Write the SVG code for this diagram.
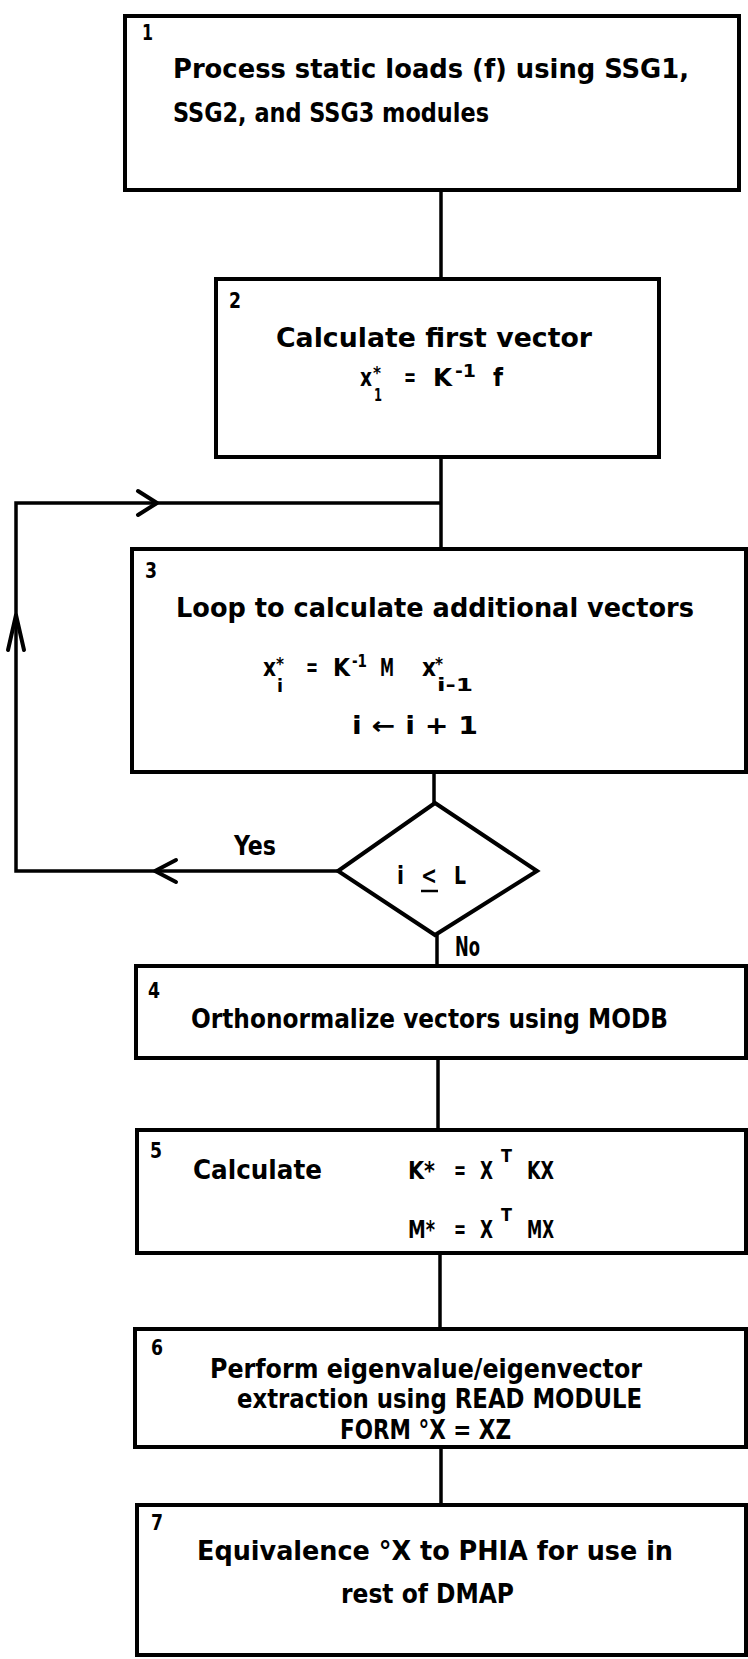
<svg xmlns="http://www.w3.org/2000/svg" width="748" height="1659" viewBox="0 0 748 1659">
<style>
.box{fill:#fff;stroke:#000;stroke-width:4}
.ln{fill:none;stroke:#000;stroke-width:3.5;stroke-linejoin:miter}
.ar{fill:none;stroke:#000;stroke-width:4;stroke-linecap:round;stroke-linejoin:round}
text{font-family:"DejaVu Sans Condensed","Liberation Sans Narrow","Liberation Sans",sans-serif;font-weight:bold;fill:#000}
.t{font-size:26px}
.n{font-size:21px}
.m{font-size:24px}
.s{font-size:17px}
</style>
<rect width="748" height="1659" fill="#fff"/>
<g id="connectors">
<line class="ln" x1="441" y1="190" x2="441" y2="279"/>
<line class="ln" x1="441" y1="457" x2="441" y2="549"/>
<polyline class="ln" points="338,871 16,871 16,503 441,503"/>
<polyline class="ar" points="176,860 155,871 176,882"/>
<polyline class="ar" points="8,650 16,615 24,650"/>
<polyline class="ar" points="138,491 157,503 138,515"/>
<line class="ln" x1="434" y1="772" x2="434" y2="803"/>
<line class="ln" x1="437" y1="935" x2="437" y2="966"/>
<line class="ln" x1="438" y1="1058" x2="438" y2="1130"/>
<line class="ln" x1="440" y1="1253" x2="440" y2="1329"/>
<line class="ln" x1="441" y1="1447" x2="441" y2="1505"/>
<text class="t" x="234" y="855" textLength="42" lengthAdjust="spacingAndGlyphs">Yes</text>
<text class="t" x="455" y="956" textLength="25" lengthAdjust="spacingAndGlyphs">No</text>
</g>
<g id="node1">
<rect class="box" x="125" y="16" width="614" height="174"/>
<text class="n" x="142" y="40" textLength="11" lengthAdjust="spacingAndGlyphs">1</text>
<text class="t" x="173" y="78" textLength="516" lengthAdjust="spacingAndGlyphs">Process static loads (f) using SSG1,</text>
<text class="t" x="173" y="122" textLength="316" lengthAdjust="spacingAndGlyphs">SSG2, and SSG3 modules</text>
</g>
<g id="node2">
<rect class="box" x="216" y="279" width="443" height="178"/>
<text class="n" x="229" y="308" textLength="12" lengthAdjust="spacingAndGlyphs">2</text>
<text class="t" x="276" y="347" textLength="316" lengthAdjust="spacingAndGlyphs">Calculate first vector</text>
<text class="m" x="360" y="386" textLength="12" lengthAdjust="spacingAndGlyphs">x</text>
<text class="s" x="373" y="379">*</text>
<text class="s" x="374" y="401" textLength="8" lengthAdjust="spacingAndGlyphs">1</text>
<text class="m" x="404" y="386" textLength="12" lengthAdjust="spacingAndGlyphs">=</text>
<text class="m" x="433" y="386" textLength="19" lengthAdjust="spacingAndGlyphs">K</text>
<text class="s" x="455" y="377" textLength="21" lengthAdjust="spacingAndGlyphs">-1</text>
<text class="m" x="493" y="386" textLength="10" lengthAdjust="spacingAndGlyphs">f</text>
</g>
<g id="node3">
<rect class="box" x="132" y="549" width="614" height="223"/>
<text class="n" x="145" y="578" textLength="12" lengthAdjust="spacingAndGlyphs">3</text>
<text class="t" x="176" y="617" textLength="518" lengthAdjust="spacingAndGlyphs">Loop to calculate additional vectors</text>
<text class="m" x="263" y="676" textLength="13" lengthAdjust="spacingAndGlyphs">x</text>
<text class="s" x="276" y="670">*</text>
<text class="s" x="277" y="692" textLength="6" lengthAdjust="spacingAndGlyphs">i</text>
<text class="m" x="306" y="676" textLength="12" lengthAdjust="spacingAndGlyphs">=</text>
<text class="m" x="333" y="676" textLength="17" lengthAdjust="spacingAndGlyphs">K</text>
<text class="s" x="352" y="667" textLength="15" lengthAdjust="spacingAndGlyphs">-1</text>
<text class="m" x="380" y="676" textLength="14" lengthAdjust="spacingAndGlyphs">M</text>
<text class="m" x="422" y="676" textLength="14" lengthAdjust="spacingAndGlyphs">x</text>
<text class="s" x="435" y="670">*</text>
<text class="s" x="437" y="691" textLength="36" lengthAdjust="spacingAndGlyphs">i-1</text>
<text class="m" x="352" y="734" textLength="126" lengthAdjust="spacingAndGlyphs">i ← i + 1</text>
</g>
<g id="decision">
<polygon class="box" points="435,803 537,871 435,935 338,871"/>
<text class="m" x="397" y="884" textLength="7" lengthAdjust="spacingAndGlyphs">i</text>
<text class="m" x="421" y="884" textLength="16" lengthAdjust="spacingAndGlyphs">&lt;</text>
<line x1="421" y1="891" x2="438" y2="891" stroke="#000" stroke-width="2.5"/>
<text class="m" x="454" y="884" textLength="12" lengthAdjust="spacingAndGlyphs">L</text>
</g>
<g id="node4">
<rect class="box" x="136" y="966" width="610" height="92"/>
<text class="n" x="148" y="998" textLength="12" lengthAdjust="spacingAndGlyphs">4</text>
<text class="t" x="191" y="1028" textLength="477" lengthAdjust="spacingAndGlyphs">Orthonormalize vectors using MODB</text>
</g>
<g id="node5">
<rect class="box" x="137" y="1130" width="609" height="123"/>
<text class="n" x="150" y="1158" textLength="12" lengthAdjust="spacingAndGlyphs">5</text>
<text class="t" x="193" y="1179" textLength="129" lengthAdjust="spacingAndGlyphs">Calculate</text>
<text class="m" x="408" y="1179" textLength="27" lengthAdjust="spacingAndGlyphs">K*</text>
<text class="m" x="454" y="1179" textLength="12" lengthAdjust="spacingAndGlyphs">=</text>
<text class="m" x="480" y="1179" textLength="13" lengthAdjust="spacingAndGlyphs">X</text>
<text class="s" x="501" y="1162" textLength="11" lengthAdjust="spacingAndGlyphs">T</text>
<text class="m" x="527" y="1179" textLength="27" lengthAdjust="spacingAndGlyphs">KX</text>
<text class="m" x="408" y="1238" textLength="27" lengthAdjust="spacingAndGlyphs">M*</text>
<text class="m" x="454" y="1238" textLength="12" lengthAdjust="spacingAndGlyphs">=</text>
<text class="m" x="480" y="1238" textLength="13" lengthAdjust="spacingAndGlyphs">X</text>
<text class="s" x="501" y="1221" textLength="11" lengthAdjust="spacingAndGlyphs">T</text>
<text class="m" x="527" y="1238" textLength="27" lengthAdjust="spacingAndGlyphs">MX</text>
</g>
<g id="node6">
<rect class="box" x="135" y="1329" width="611" height="118"/>
<text class="n" x="151" y="1355" textLength="12" lengthAdjust="spacingAndGlyphs">6</text>
<text class="t" x="210" y="1378" textLength="432" lengthAdjust="spacingAndGlyphs">Perform eigenvalue/eigenvector</text>
<text class="t" x="237" y="1408" textLength="405" lengthAdjust="spacingAndGlyphs">extraction using READ MODULE</text>
<text class="t" x="340" y="1439" textLength="171" lengthAdjust="spacingAndGlyphs">FORM °X = XZ</text>
</g>
<g id="node7">
<rect class="box" x="137" y="1505" width="609" height="150"/>
<text class="n" x="151" y="1530" textLength="12" lengthAdjust="spacingAndGlyphs">7</text>
<text class="t" x="197" y="1560" textLength="476" lengthAdjust="spacingAndGlyphs">Equivalence °X to PHIA for use in</text>
<text class="t" x="341" y="1603" textLength="173" lengthAdjust="spacingAndGlyphs">rest of DMAP</text>
</g>
</svg>
